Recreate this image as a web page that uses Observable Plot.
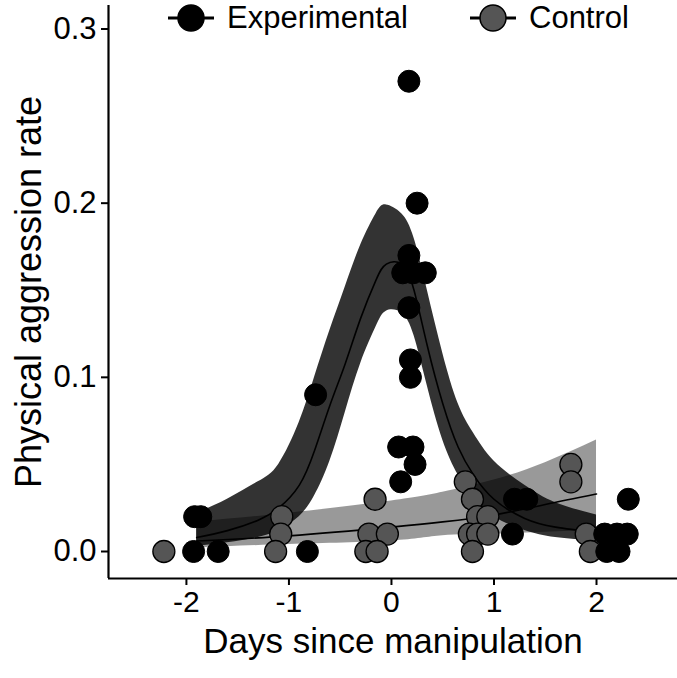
<!DOCTYPE html>
<html>
<head>
<meta charset="utf-8">
<script src="https://cdn.jsdelivr.net/npm/d3@7"></script>
<script src="https://cdn.jsdelivr.net/npm/@observablehq/plot@0.6"></script>
<style>
  body { margin: 0; background: #fff; }
  #wrap { position: relative; width: 677px; height: 678px; font-family: "Liberation Sans", Arial, sans-serif; }
  #legend { position: absolute; top: 0; left: 0; width: 677px; height: 36px; }
  .item { position: absolute; top: 0; display: flex; align-items: center; height: 36px; font-size: 31px; color: #000; }
  .item svg { margin-right: 11px; }
</style>
</head>
<body>
<div id="wrap">
  <div id="chart"></div>
  <div id="legend"></div>
</div>
<script>
// ---- Data ----
const seriesNames = ["Experimental", "Control"];

// Experimental observations
const expX = [-1.92, -1.86, -1.93, -1.69, -0.82, -0.74,
  0.17, 0.25, 0.17, 0.11, 0.21, 0.33, 0.17, 0.185, 0.185, 0.07, 0.21, 0.23, 0.09,
  1.2, 1.32, 1.18, 2.31, 2.08, 2.2, 2.3, 2.1, 2.22];
const expY = [0.02, 0.02, 0, 0, 0, 0.09,
  0.27, 0.20, 0.17, 0.16, 0.16, 0.16, 0.14, 0.11, 0.10, 0.06, 0.06, 0.05, 0.04,
  0.03, 0.03, 0.01, 0.03, 0.01, 0.01, 0.01, 0, 0];

// Control observations
const ctlX = [-2.22, -1.07, -1.08, -1.13, -0.16, -0.22, -0.04, -0.25, -0.14,
  0.72, 0.79, 0.84, 0.94, 0.76, 0.84, 0.94, 0.79, 1.75, 1.75, 1.9, 1.94];
const ctlY = [0, 0.02, 0.01, 0, 0.03, 0.01, 0.01, 0, 0,
  0.04, 0.03, 0.02, 0.02, 0.01, 0.01, 0.01, 0, 0.05, 0.04, 0.01, 0];

// Experimental fitted curve with confidence band
const expFitX  = [-1.9, -1.6, -1.3, -1.1, -0.9, -0.75, -0.6, -0.45, -0.3, -0.15, -0.05, 0.1, 0.22, 0.35, 0.5, 0.65, 0.8, 1.0, 1.3, 1.6, 2.0];
const expFit   = [0.008, 0.012, 0.018, 0.025, 0.038, 0.058, 0.084, 0.108, 0.134, 0.156, 0.165, 0.165, 0.150, 0.118, 0.085, 0.060, 0.044, 0.030, 0.019, 0.014, 0.011];
const expLo    = [0.003, 0.005, 0.008, 0.012, 0.020, 0.032, 0.052, 0.080, 0.108, 0.129, 0.138, 0.137, 0.124, 0.095, 0.064, 0.044, 0.031, 0.020, 0.012, 0.008, 0.006];
const expHi    = [0.022, 0.030, 0.040, 0.050, 0.074, 0.100, 0.127, 0.152, 0.176, 0.194, 0.199, 0.194, 0.180, 0.150, 0.114, 0.085, 0.068, 0.052, 0.038, 0.028, 0.021];

// Control fitted curve with confidence band
const ctlFitX = [-1.9, -1.0, 0.0, 0.5, 1.0, 1.5, 2.0];
const ctlFit  = [0.006, 0.009, 0.014, 0.017, 0.021, 0.027, 0.033];
const ctlLo   = [0.002, 0.004, 0.006, 0.009, 0.010, 0.011, 0.012];
const ctlHi   = [0.017, 0.022, 0.029, 0.034, 0.041, 0.051, 0.064];

// Axis ticks and domains
const xTicks = [-2, -1, 0, 1, 2];
const yTicks = [0, 0.1, 0.2, 0.3];
const xDomain = [-2.76, 2.79];
const yDomain = [-0.0155, 0.3135];

// ---- Build tables ----
const expPts = expX.map((x, i) => ({x, y: expY[i]}));
const ctlPts = ctlX.map((x, i) => ({x, y: ctlY[i]}));
const expCurve = expFitX.map((x, i) => ({x, fit: expFit[i], lo: expLo[i], hi: expHi[i]}));
const ctlCurve = ctlFitX.map((x, i) => ({x, fit: ctlFit[i], lo: ctlLo[i], hi: ctlHi[i]}));

const font = "Liberation Sans, Arial, sans-serif";

const chart = Plot.plot({
  width: 677,
  height: 678,
  marginLeft: 108,
  marginRight: 0,
  marginTop: 5,
  marginBottom: 100,
  style: {fontFamily: font, color: "#000", background: "#fff"},
  x: {domain: xDomain},
  y: {domain: yDomain},
  marks: [
    Plot.areaY(ctlCurve, {x: "x", y1: "lo", y2: "hi", fill: "#555", fillOpacity: 0.6, curve: "natural"}),
    Plot.areaY(expCurve, {x: "x", y1: "lo", y2: "hi", fill: "#000", fillOpacity: 0.8, curve: "natural"}),
    Plot.line(ctlCurve, {x: "x", y: "fit", stroke: "#000", strokeWidth: 1.6, curve: "natural"}),
    Plot.line(expCurve, {x: "x", y: "fit", stroke: "#000", strokeWidth: 1.6, curve: "natural"}),
    Plot.dot(ctlPts, {x: "x", y: "y", r: 11, fill: "#555", stroke: "#000", strokeWidth: 1.3}),
    Plot.dot(expPts, {x: "x", y: "y", r: 11, fill: "#000", stroke: "#000", strokeWidth: 1}),
    Plot.ruleX([xDomain[0]], {stroke: "#000", strokeWidth: 2.2}),
    Plot.ruleY([yDomain[0]], {stroke: "#000", strokeWidth: 2.2}),
    Plot.axisX({ticks: xTicks, tickFormat: d => d3.format("d")(d).replace("−", "-"), tickSize: 7, tickPadding: 5, fontSize: 30, label: null, strokeWidth: 2}),
    Plot.axisY({ticks: yTicks, tickFormat: d3.format(".1f"), tickSize: 7, tickPadding: 5, fontSize: 31, label: null, strokeWidth: 2}),
    Plot.text(["Physical aggression rate"], {frameAnchor: "left", textAnchor: "middle", lineAnchor: "middle", dx: -79, rotate: -90, fontSize: 36, fill: "#000"}),
    Plot.text(["Days since manipulation"], {frameAnchor: "bottom", textAnchor: "middle", lineAnchor: "middle", dy: 63, fontSize: 35, fill: "#000"})
  ]
});
document.getElementById("chart").appendChild(chart);

// ---- Legend ----
const legendFill = ["#000", "#555"];
const legendLeft = [166, 468];
const legend = document.getElementById("legend");
seriesNames.forEach((name, i) => {
  const item = document.createElement("div");
  item.className = "item";
  item.style.left = legendLeft[i] + "px";
  item.style.top = "0px";
  item.innerHTML = `<svg width="50" height="36"><line x1="2" x2="48" y1="18" y2="18" stroke="#000" stroke-width="2.8"/><circle cx="25" cy="18" r="13" fill="${legendFill[i]}" stroke="#000" stroke-width="1.5"/></svg><span>${name}</span>`;
  legend.appendChild(item);
});
</script>
</body>
</html>
